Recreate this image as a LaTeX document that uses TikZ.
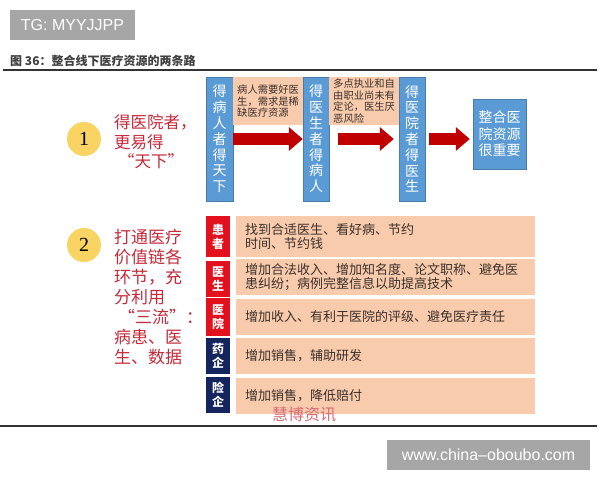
\documentclass[tikz,border=0pt]{standalone}
\usepackage{fontspec}
\setmainfont{Noto Sans CJK SC}
\newfontfamily\latinsans{Liberation Sans}
\newfontfamily\latinserif{Liberation Serif}
\usetikzlibrary{arrows.meta}

\definecolor{colblue}{HTML}{5B9BD5}
\definecolor{peach}{HTML}{F8CBAD}
\definecolor{arrred}{HTML}{C00000}
\definecolor{labred}{HTML}{E3101E}
\definecolor{labnavy}{HTML}{14245C}
\definecolor{numyellow}{HTML}{F9D462}
\definecolor{textred}{HTML}{C42B3A}
\definecolor{markgrey}{HTML}{A6A6A6}
\definecolor{bodytext}{HTML}{3B302A}

\tikzset{
  colbox/.style={fill=colblue, draw=colblue!80!black, text=white, inner sep=0pt,
    align=center, font=\fontsize{14}{15.8}\selectfont},
  notebox/.style={fill=peach, anchor=north west, inner xsep=4pt, inner ysep=1pt,
    text width=62pt, minimum height=48pt, align=left, text=bodytext,
    font=\fontsize{10.3}{11.5}\selectfont},
  bigarrow/.style={line width=12pt, draw=arrred, -{Triangle[width=23pt,length=14pt]}},
  numcircle/.style={circle, fill=numyellow, minimum size=34pt, inner sep=0pt,
    font=\latinserif\fontsize{20}{20}\selectfont},
  redtext/.style={anchor=west, inner sep=0pt, align=left, text=textred},
  rowlab/.style={text=white, inner sep=0pt, minimum width=24pt, align=center,
    font=\fontsize{12}{14}\selectfont\bfseries},
  rowbox/.style={fill=peach, anchor=west, minimum width=299pt, text width=281pt,
    inner xsep=9pt, inner ysep=0pt, align=left, text=bodytext,
    font=\fontsize{13}{13.5}\selectfont},
  markbox/.style={fill=markgrey, text=white, inner sep=0pt, font=\latinsans\fontsize{16}{16}\selectfont}
}

\begin{document}
\begin{tikzpicture}[x=1pt,y=-1pt]
  \useasboundingbox[fill=white] (0,0) rectangle (600,480);

  \node[markbox, minimum width=125pt, minimum height=30pt] (tg) at (72.5,25) {TG: MYYJJPP};
  \node[anchor=west, inner sep=0pt, text=black!75, font=\fontsize{12}{12}\selectfont\bfseries]
    (title) at (10,61) {图 36：整合线下医疗资源的两条路};
  \draw[line width=1.2pt, black!80] (3,70) -- (597,70);

  % first road
  \node[numcircle] (one) at (84,139) {1};
  \node[redtext, font=\fontsize{16.5}{19.5}\selectfont] (road1) at (114,142)
    {得医院者，\\更易得\\\hspace{4pt}“天下”};

  \node[colbox, minimum width=27pt, minimum height=124pt] (col1) at (219.5,139)
    {得\\病\\人\\者\\得\\天\\下};
  \node[colbox, minimum width=26pt, minimum height=124pt] (col2) at (316,139)
    {得\\医\\生\\者\\得\\病\\人};
  \node[colbox, minimum width=26pt, minimum height=124pt] (col3) at (412,139)
    {得\\医\\院\\者\\得\\医\\生};
  \node[colbox, minimum width=53pt, minimum height=70pt, font=\fontsize{14}{16.5}\selectfont]
    (col4) at (499.5,134) {整合医\\院资源\\很重要};

  \node[notebox, minimum width=68pt] (noteA) at (233,77) {病人需要好医\\生，需求是稀\\缺医疗资源};
  \node[notebox, minimum width=69pt] (noteB) at (329,77) {多点执业和自\\由职业尚未有\\定论，医生厌\\恶风险};

  \draw[bigarrow] (col1.east) -- (col2.west);
  \draw[bigarrow, shorten <=9pt, shorten >=5pt] (col2.east) -- (col3.west);
  \draw[bigarrow, shorten <=4pt, shorten >=3pt] (col3.east) -- (col3.east -| col4.west);

  % second road
  \node[numcircle] (two) at (84,245) {2};
  \node[redtext, font=\fontsize{17}{20}\selectfont] (road2) at (114,297)
    {打通医疗\\价值链各\\环节，充\\分利用\\\hspace{4pt}“三流”：\\病患、医\\生、数据};

  \node[rowlab, fill=labred, minimum height=41pt] (lab1) at (218,236.5) {患\\者};
  \node[rowlab, fill=labred, minimum height=36pt] (lab2) at (218,279) {医\\生};
  \node[rowlab, fill=labred, minimum height=38pt] (lab3) at (218,317) {医\\院};
  \node[rowlab, fill=labnavy, minimum height=36pt] (lab4) at (218,356) {药\\企};
  \node[rowlab, fill=labnavy, minimum height=36pt] (lab5) at (218,395) {险\\企};

  \node[rowbox, minimum height=41pt, inner xsep=7pt] (row1) at (236,236.5)
    {找到合适医生、看好病、节约\\时间、节约钱};
  \node[rowbox, minimum height=36pt] (row2) at (236,277)
    {增加合法收入、增加知名度、论文职称、避免医\\患纠纷；病例完整信息以助提高技术};
  \node[rowbox, minimum height=36pt] (row3) at (236,317) {增加收入、有利于医院的评级、避免医疗责任};
  \node[rowbox, minimum height=36pt] (row4) at (236,356) {增加销售，辅助研发};
  \node[rowbox, minimum height=36pt] (row5) at (236,396) {增加销售，降低赔付};

  \node[text=textred!70, inner sep=0pt, font=\fontsize{16}{16}\selectfont] (wm) at (304,415) {慧博资讯};
  \draw[line width=1.2pt, black!80] (0,426) -- (597,426);

  \node[markbox, minimum width=203pt, minimum height=30pt] (site) at (488.5,455) {www.china–oboubo.com};
\end{tikzpicture}
\end{document}
